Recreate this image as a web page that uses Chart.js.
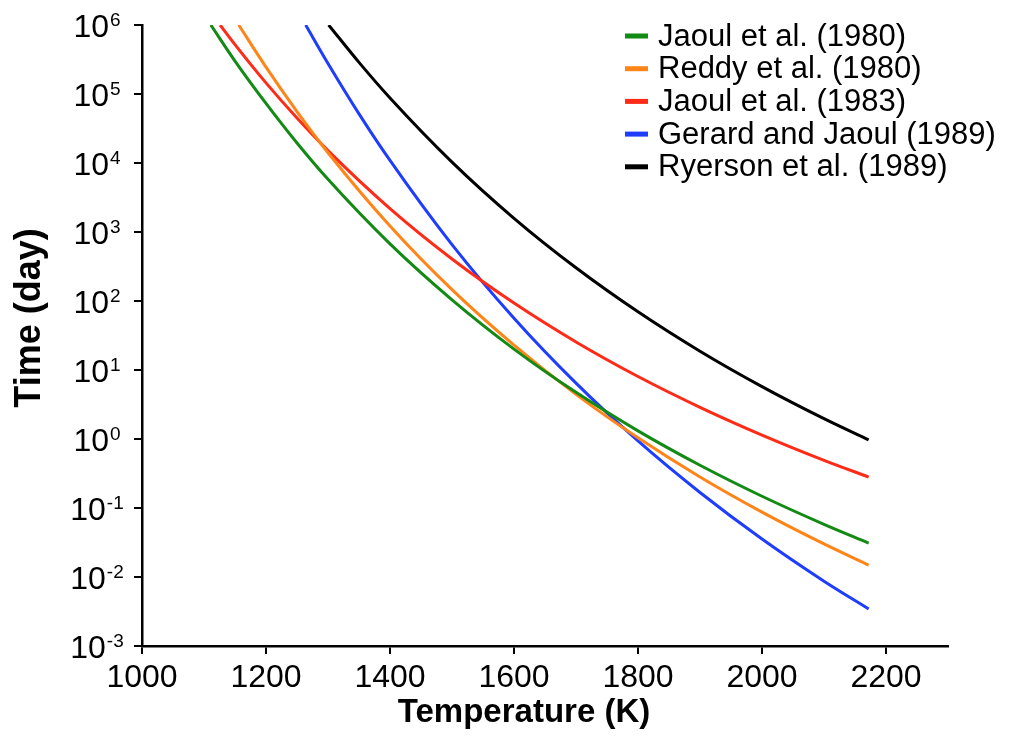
<!DOCTYPE html>
<html>
<head>
<meta charset="utf-8">
<script src="https://cdn.jsdelivr.net/npm/chart.js@4/dist/chart.umd.min.js"></script>
<style>
  html, body { margin: 0; padding: 0; background: #ffffff; }
  canvas { display: block; }
</style>
</head>
<body>
<canvas id="c" width="1015" height="740"></canvas>
<script>
// ---- Data ----
const seriesLabels = ["Jaoul et al. (1980)", "Reddy et al. (1980)", "Jaoul et al. (1983)", "Gerard and Jaoul (1989)", "Ryerson et al. (1989)"];
const seriesColors = ["#138a13", "#ff8519", "#ff2b17", "#1f3dff", "#000000"];

const jaoul1980T    = [1111, 1150, 1200, 1250, 1300, 1400, 1500, 1600, 1700, 1800, 1900, 2000, 2100, 2172];
const jaoul1980Time = [1e6, 3.0e5, 7.3e4, 1.95e4, 5.8e3, 673, 104, 20.1, 4.74, 1.31, 0.416, 0.148, 0.058, 0.031];

const reddy1980T    = [1156, 1200, 1250, 1300, 1400, 1500, 1600, 1700, 1800, 1900, 2000, 2100, 2172];
const reddy1980Time = [1e6, 2.45e5, 5.56e4, 1.41e4, 1220, 146, 22.9, 4.44, 1.04, 0.282, 0.0873, 0.0302, 0.0149];

const jaoul1983T    = [1126, 1150, 1200, 1250, 1300, 1400, 1500, 1600, 1700, 1800, 1900, 2000, 2100, 2172];
const jaoul1983Time = [1e6, 5.2e5, 1.45e5, 4.48e4, 1.51e4, 2180, 406, 93.3, 25.5, 8.05, 2.88, 1.14, 0.491, 0.281];

const gerard1989T    = [1264, 1300, 1350, 1400, 1500, 1600, 1700, 1800, 1900, 2000, 2100, 2172];
const gerard1989Time = [1e6, 2.77e5, 5.16e4, 1.09e4, 656, 56.2, 6.44, 0.938, 0.168, 0.0355, 0.0087, 0.00344];

const ryerson1989T    = [1301, 1350, 1400, 1500, 1600, 1700, 1800, 1900, 2000, 2100, 2172];
const ryerson1989Time = [1e6, 2.87e5, 8.75e4, 1.03e4, 1580, 303, 69.7, 18.7, 5.74, 1.97, 0.97];

const xTickValues = [1000, 1200, 1400, 1600, 1800, 2000, 2200];
const yTickExponents = [-3, -2, -1, 0, 1, 2, 3, 4, 5, 6];

const xTitle = "Temperature (K)";
const yTitle = "Time (day)";

// ---- Build datasets ----
const seriesT = [jaoul1980T, reddy1980T, jaoul1983T, gerard1989T, ryerson1989T];
const seriesV = [jaoul1980Time, reddy1980Time, jaoul1983Time, gerard1989Time, ryerson1989Time];

const datasets = seriesLabels.map((lab, i) => ({
  label: lab,
  data: seriesT[i].map((t, j) => ({ x: t, y: seriesV[i][j] })),
  borderColor: seriesColors[i],
  backgroundColor: seriesColors[i],
  borderWidth: 3,
  pointRadius: 0,
  fill: false,
  cubicInterpolationMode: 'monotone'
}));

const FONT = "'Liberation Sans', Arial, Helvetica, sans-serif";

const decorPlugin = {
  id: 'decor',
  afterDraw(chart) {
    const ctx = chart.ctx;
    const ys = chart.scales.y;
    const area = chart.chartArea;
    ctx.save();
    ctx.fillStyle = '#000';
    // y tick labels with superscripts
    ys.ticks.forEach(t => {
      const e = Math.round(Math.log10(t.value));
      const py = ys.getPixelForValue(t.value);
      ctx.font = '32px ' + FONT;
      const baseW = ctx.measureText('10').width;
      ctx.font = '19px ' + FONT;
      const expStr = String(e);
      const expW = ctx.measureText(expStr).width;
      const total = baseW + 1 + expW;
      const startX = 97 - total / 2;
      ctx.textAlign = 'left';
      ctx.textBaseline = 'alphabetic';
      ctx.font = '32px ' + FONT;
      ctx.fillText('10', startX, py + 11.5);
      ctx.font = '19px ' + FONT;
      ctx.fillText(expStr, startX + baseW + 1, py + 0.5);
    });
    // axis titles
    ctx.font = 'bold 33px ' + FONT;
    ctx.textAlign = 'center';
    ctx.textBaseline = 'middle';
    ctx.fillText(xTitle, 524, 713);
    ctx.save();
    ctx.translate(30, 318);
    ctx.rotate(-Math.PI / 2);
    ctx.font = 'bold 36px ' + FONT;
    ctx.fillText(yTitle, 0, 0);
    ctx.restore();
    // legend
    const lx = area.right - 323;
    const ly0 = area.top + 11;
    const rowH = 32.7;
    chart.data.datasets.forEach((ds, i) => {
      const cy = ly0 + i * rowH;
      ctx.fillStyle = ds.borderColor;
      ctx.fillRect(lx, cy - 2.5, 23, 5);
      ctx.fillStyle = '#000';
      ctx.font = '31px ' + FONT;
      ctx.textAlign = 'left';
      ctx.textBaseline = 'middle';
      ctx.fillText(ds.label, lx + 33, cy + 1);
    });
    ctx.restore();
  }
};

new Chart(document.getElementById('c'), {
  type: 'line',
  data: { datasets },
  options: {
    responsive: false,
    devicePixelRatio: 1,
    animation: false,
    layout: { padding: { left: 0, right: 67, top: 25, bottom: 0 } },
    plugins: { legend: { display: false }, tooltip: { enabled: false } },
    scales: {
      x: {
        type: 'linear',
        min: 1000,
        max: 2300,
        afterBuildTicks: s => { s.ticks = xTickValues.map(v => ({ value: v })); },
        afterFit: s => { s.height = 94; },
        ticks: { font: { size: 32, family: FONT }, color: '#000', padding: 5, maxRotation: 0, callback: v => String(v) },
        grid: { display: true, drawOnChartArea: false, drawTicks: true, tickLength: 8, color: '#000', lineWidth: 2 },
        border: { display: true, color: '#000', width: 2.5 }
      },
      y: {
        type: 'logarithmic',
        min: 1e-3,
        max: 1e6,
        afterBuildTicks: s => { s.ticks = yTickExponents.map(e => ({ value: Math.pow(10, e) })); },
        afterFit: s => { s.width = 142; },
        ticks: { display: false },
        grid: { display: true, drawOnChartArea: false, drawTicks: true, tickLength: 8, color: '#000', lineWidth: 2 },
        border: { display: true, color: '#000', width: 2.5 }
      }
    }
  },
  plugins: [decorPlugin]
});
</script>
</body>
</html>
